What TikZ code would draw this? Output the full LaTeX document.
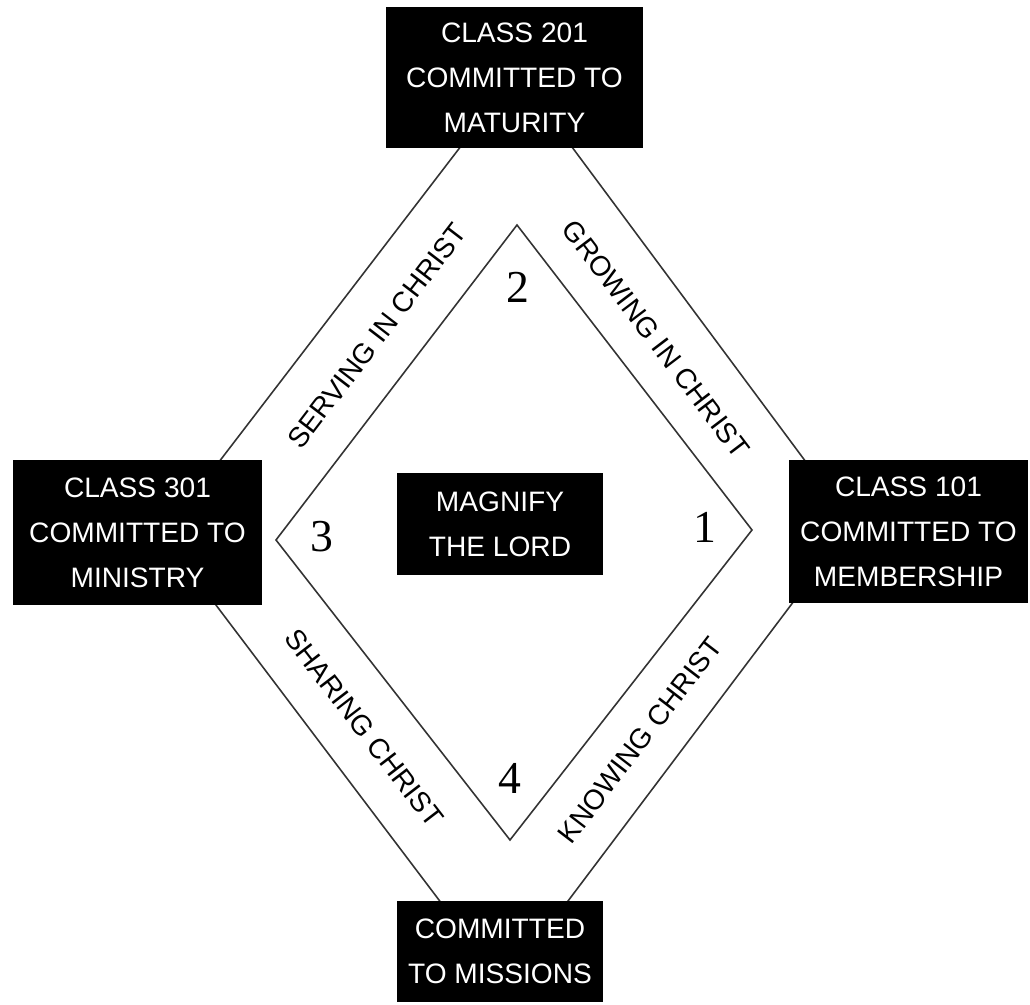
\documentclass[tikz,border=0pt]{standalone}
\usepackage{fontspec}
\setmainfont{Liberation Serif}
\setsansfont{Liberation Sans}
\begin{document}
\begin{tikzpicture}[font=\sffamily\fontsize{8}{12.8}\selectfont,
	box/.style={fill=black, text=white, align=center, inner sep=0pt, outer sep=0pt},
	band/.style={font=\sffamily\fontsize{8}{10}\selectfont, inner sep=0pt},
	num/.style={font=\rmfamily\fontsize{13}{13}\selectfont, inner sep=0pt},
	edge/.style={draw=black!80, line width=0.45pt, line join=miter}]

	\useasboundingbox (0,0) rectangle (10.3,10.05);

	% Outer diamond
	\coordinate (outerT) at (5.17, 9.32);
	\coordinate (outerR) at (8.52, 4.81);
	\coordinate (outerB) at (5.04, 0.19);
	\coordinate (outerL) at (1.63, 4.70);
	\draw[edge] (outerT) -- (outerR) -- (outerB) -- (outerL) -- cycle;

	% Inner diamond
	\coordinate (innerT) at (5.17, 7.80);
	\coordinate (innerR) at (7.52, 4.75);
	\coordinate (innerB) at (5.10, 1.65);
	\coordinate (innerL) at (2.76, 4.65);
	\draw[edge] (innerT) -- (innerR) -- (innerB) -- (innerL) -- cycle;

	% Classes
	\node[box, minimum width=2.57cm, minimum height=1.41cm] (class201) at (5.145, 9.275) {CLASS 201\\COMMITTED TO\\MATURITY};
	\node[box, minimum width=2.49cm, minimum height=1.45cm] (class301) at (1.375, 4.725) {CLASS 301\\COMMITTED TO\\MINISTRY};
	\node[box, minimum width=2.39cm, minimum height=1.43cm] (class101) at (9.085, 4.735) {CLASS 101\\COMMITTED TO\\MEMBERSHIP};
	\node[box, minimum width=2.06cm, minimum height=1.01cm] (missions) at (5.00, 0.535) {COMMITTED\\TO MISSIONS};
	\node[box, minimum width=2.06cm, minimum height=1.02cm] (magnify) at (5.00, 4.81) {MAGNIFY\\THE LORD};

	% Bands
	\node[band, rotate=52.5] (serving) at (3.77, 6.69) {SERVING IN CHRIST};
	\node[band, rotate=-52.8] (growing) at (6.56, 6.66) {GROWING IN CHRIST};
	\node[band, rotate=-52.5] (sharing) at (3.64, 2.77) {SHARING CHRIST};
	\node[band, rotate=52.5] (knowing) at (6.40, 2.65) {KNOWING CHRIST};

	% Steps
	\node[num] (step1) at (7.05, 4.78) {1};
	\node[num] (step2) at (5.18, 7.18) {2};
	\node[num] (step3) at (3.22, 4.68) {3};
	\node[num] (step4) at (5.10, 2.27) {4};

\end{tikzpicture}
\end{document}
